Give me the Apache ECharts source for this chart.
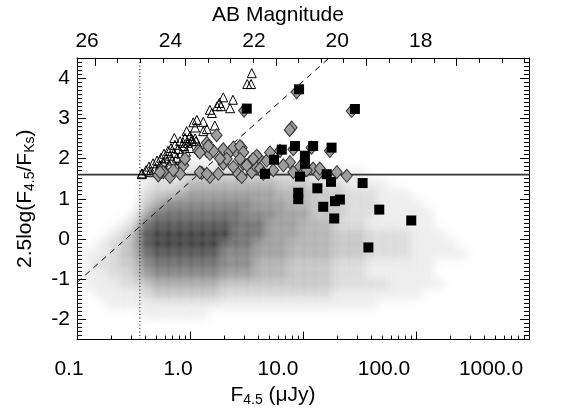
<!DOCTYPE html>
<html>
<head>
<meta charset="utf-8">
<script src="https://cdn.jsdelivr.net/npm/echarts@6.0.0/dist/echarts.min.js"></script>
<style>
html, body { margin: 0; padding: 0; background: #fff; }
#chart { width: 569px; height: 412px; }
</style>
</head>
<body>
<div id="chart"></div>
<script>
// open triangles: [F4.5 (uJy), 2.5log(F4.5/FKs)]
var triangles = [
    [3.52, 4.12], [3.21, 3.85], [3.47, 3.85], [1.97, 3.52], [2.40, 3.46], [1.82, 3.38],
    [1.74, 3.30], [1.88, 3.30], [2.26, 3.25], [1.50, 3.21], [1.56, 3.13], [1.15, 2.96],
    [1.07, 2.90], [1.31, 2.91], [1.41, 2.73], [1.66, 2.82], [1.11, 2.77], [1.31, 2.68],
    [0.726, 2.51], [0.935, 2.68], [1.00, 2.56], [1.11, 2.50], [0.873, 2.39], [1.04, 2.43],
    [0.376, 1.63], [0.408, 1.71], [0.434, 1.80], [0.443, 1.66], [0.471, 1.88], [0.490, 1.75],
    [0.511, 1.95], [0.521, 1.68], [0.543, 1.83], [0.554, 2.02], [0.577, 1.90], [0.589, 2.12],
    [0.601, 1.71], [0.614, 2.00], [0.639, 2.19], [0.652, 1.85], [0.665, 2.07], [0.679, 2.26],
    [0.693, 1.95], [0.722, 2.14], [0.736, 2.34], [0.751, 1.80], [0.767, 2.02], [0.783, 2.24],
    [0.817, 2.43], [0.833, 2.12], [0.849, 1.95], [0.885, 2.31], [0.903, 2.51], [0.922, 2.17],
    [0.960, 2.39], [1.00, 2.26], [1.04, 2.48], [1.13, 2.43], [1.20, 2.31], [0.374, 1.61]
];

// grey diamonds
var diamonds = [
    [8.79, 3.65], [3.01, 3.19], [27.0, 3.18], [7.94, 2.77], [7.62, 2.71], [1.72, 2.58],
    [1.41, 2.39], [1.18, 2.19], [1.41, 2.19], [1.50, 2.11], [1.97, 2.23], [2.23, 2.15],
    [2.42, 2.27], [2.87, 2.27], [2.67, 2.11], [0.873, 1.83], [0.903, 1.99], [0.581, 1.66],
    [0.524, 1.58], [0.665, 1.54], [0.817, 1.62], [1.27, 1.64], [1.50, 1.54], [1.78, 1.62],
    [1.97, 1.87], [2.11, 1.99], [2.42, 1.79], [2.67, 1.62], [2.96, 1.87], [2.87, 1.54],
    [3.52, 1.66], [3.76, 1.83], [4.16, 1.75], [4.77, 1.95], [5.11, 2.15], [6.26, 2.19],
    [7.67, 1.91], [6.70, 1.83], [5.46, 1.71], [4.46, 1.62], [3.52, 1.95], [4.02, 2.03],
    [1.61, 2.19], [9.40, 1.79], [10.07, 1.66], [12.3, 1.75], [13.7, 1.62], [17.3, 2.19],
    [19.9, 1.66], [24.4, 1.57], [8.21, 2.23], [11.9, 2.27], [3.89, 2.07], [3.40, 1.91],
    [10.8, 1.71], [14.1, 1.75], [8.21, 1.66], [1.45, 2.31], [1.22, 2.15], [2.77, 2.31],
    [2.96, 2.15], [1.84, 2.00], [2.77, 1.99], [3.18, 1.83], [3.63, 1.99], [0.543, 1.66],
    [1.22, 1.66], [1.41, 1.62], [0.711, 1.71]
];

// filled squares
var squares = [
    [3.18, 3.24], [9.23, 3.72], [28.8, 3.23], [8.5, 2.31], [12.3, 2.31], [17.9, 2.27],
    [6.49, 2.22], [5.54, 1.97], [10.4, 2.07], [10.4, 1.87], [4.61, 1.62], [9.4, 1.55],
    [16.2, 1.61], [17.7, 1.42], [33.7, 1.39], [13.4, 1.26], [9.08, 1.15], [9.08, 0.99],
    [19.2, 0.94], [21.2, 0.98], [15.1, 0.80], [18.9, 0.51], [47.3, 0.73], [90.8, 0.46],
    [37.9, -0.21]
];

// background sources, read as a density map (0-9) on a grid:
// columns in log10(F) from cloudLogF0, rows in y from cloudYTop downwards
var cloudLogF0 = -0.94;
var cloudLogStep = 0.1;
var cloudYTop = 2.0;
var cloudYStep = 0.25;
var cloudRows = [
    '00000001111111111000000000000000000',
    '00000111122222222222111110000000000',
    '00000122244444444333222111100000000',
    '00000233455555555444333222111000000',
    '00000346666666655544333222111100000',
    '00001477777777666555333222111110000',
    '00012788888887775554442221111110000',
    '00124899999997775554443332222111000',
    '01234899999977755544443332222111100',
    '11234788888866655544443332222111110',
    '12233677777766644433332221111110000',
    '11223566666655544433332221111110000',
    '11122344444433333333332222211111000',
    '01111233333322222222221111111100000',
    '00111111111111111111111111000000000',
    '00000111111000000000000000000000000'
];

var cutLevel = 1.6;
var dashedLine = [[0.1, -1.08], [17.06, 4.5]];
var dottedLine = [[0.36, -2.5], [0.36, 4.5]];

var xTicks = [0.1, 1, 10, 100, 1000];
var xTickLabels = ['0.1', '1.0', '10.0', '100.0', '1000.0'];
var magTicks = [26, 24, 22, 20, 18];
var yTicks = [-2, -1, 0, 1, 2, 3, 4];

var xMinorTicks = [];
for (var d = -1; d <= 2; d++) {
    for (var k = 2; k <= 9; k++) {
        xMinorTicks.push(k * Math.pow(10, d));
    }
}
var magMinorTicks = [];
for (var m = 16.5; m <= 26; m += 0.5) {
    if (m % 2 !== 0) magMinorTicks.push(m);
}
var yMinorTicks = [];
for (var i = -25; i <= 45; i++) {
    if (i % 10 !== 0) yMinorTicks.push(i / 10);
}

// build cells of the density map
var cloudCells = [];
cloudRows.forEach(function (row, r) {
    for (var c = 0; c < row.length; c++) {
        var v = parseInt(row.charAt(c), 10);
        if (v > 0) {
            cloudCells.push([
                Math.pow(10, cloudLogF0 + (c + 0.5) * cloudLogStep),
                cloudYTop - (r + 0.5) * cloudYStep,
                v
            ]);
        }
    }
});

var font = 'Liberation Sans, Arial, Helvetica, sans-serif';
var fs = 21;
var bottomLabelShift = [8, 12, 25, 32, 38];
var topLabelShift = [8, 15, 22, 29, 36];

function shiftedRich(shifts) {
    var r = {};
    shifts.forEach(function (s, i) {
        r['l' + i] = {fontSize: fs, fontFamily: font, color: '#000', padding: [0, 2 * s, 0, 0]};
    });
    return r;
}

var nameRich = {
    n: {fontSize: fs, fontFamily: font, color: '#000'},
    s: {fontSize: 14, fontFamily: font, color: '#000', padding: [10, 0, 0, 0]}
};

var blackLine = {show: true, onZero: false, lineStyle: {color: '#000', width: 1}};
var noLine = {show: false, onZero: false};

var chart = echarts.init(document.getElementById('chart'));

chart.setOption({
    animation: false,
    backgroundColor: '#fff',
    grid: {left: 77, right: 40, top: 55, bottom: 69},
    xAxis: [
        {
            type: 'log', logBase: 10, min: 0.1, max: 1000, position: 'bottom',
            axisLine: blackLine,
            axisTick: {inside: true, length: 8, customValues: xTicks, lineStyle: {color: '#000'}},
            axisLabel: {
                customValues: xTicks, margin: 19, rich: shiftedRich(bottomLabelShift),
                formatter: function (v) {
                    var idx = Math.round(Math.log(v) / Math.LN10) + 1;
                    return '{l' + idx + '|' + xTickLabels[idx] + '}';
                }
            },
            splitLine: {show: false},
            name: '{n|F}{s|4.5}{n| (μJy)}',
            nameLocation: 'middle', nameGap: 41,
            nameTextStyle: {rich: nameRich, padding: [0, 60, 0, 0]}
        },
        {
            type: 'log', logBase: 10, min: 0.1, max: 1000, position: 'bottom',
            axisLine: noLine,
            axisTick: {inside: true, length: 4, customValues: xMinorTicks, lineStyle: {color: '#000'}},
            axisLabel: {show: false},
            splitLine: {show: false}
        },
        {
            type: 'value', min: 16.4, max: 26.4, inverse: true, position: 'top',
            axisLine: blackLine,
            axisTick: {inside: true, length: 8, customValues: magTicks, lineStyle: {color: '#000'}},
            axisLabel: {
                customValues: magTicks, margin: 6, rich: shiftedRich(topLabelShift),
                formatter: function (v) {
                    var idx = Math.round((26 - v) / 2);
                    return '{l' + idx + '|' + v + '}';
                }
            },
            splitLine: {show: false},
            name: 'AB Magnitude',
            nameLocation: 'middle', nameGap: 27,
            nameTextStyle: {fontSize: fs, fontFamily: font, color: '#000', padding: [0, 50, 0, 0]}
        },
        {
            type: 'value', min: 16.4, max: 26.4, inverse: true, position: 'top',
            axisLine: noLine,
            axisTick: {inside: true, length: 5, customValues: magMinorTicks, lineStyle: {color: '#000'}},
            axisLabel: {show: false},
            splitLine: {show: false}
        }
    ],
    yAxis: [
        {
            type: 'value', min: -2.5, max: 4.5, position: 'left',
            axisLine: blackLine,
            axisTick: {inside: true, length: 9, customValues: yTicks, lineStyle: {color: '#000'}},
            axisLabel: {
                customValues: yTicks, margin: 7, fontSize: fs, fontFamily: font, color: '#000',
                padding: [6, 0, 0, 0]
            },
            splitLine: {show: false},
            name: '{n|2.5log(F}{s|4.5}{n|/F}{s|Ks}{n|)}',
            nameLocation: 'middle', nameGap: 40,
            nameTextStyle: {rich: nameRich}
        },
        {
            type: 'value', min: -2.5, max: 4.5, position: 'left',
            axisLine: noLine,
            axisTick: {inside: true, length: 5, customValues: yMinorTicks, lineStyle: {color: '#000'}},
            axisLabel: {show: false},
            splitLine: {show: false}
        },
        {
            type: 'value', min: -2.5, max: 4.5, position: 'right',
            axisLine: blackLine,
            axisTick: {inside: true, length: 9, customValues: yTicks, lineStyle: {color: '#000'}},
            axisLabel: {show: false},
            splitLine: {show: false}
        },
        {
            type: 'value', min: -2.5, max: 4.5, position: 'right',
            axisLine: noLine,
            axisTick: {inside: true, length: 5, customValues: yMinorTicks, lineStyle: {color: '#000'}},
            axisLabel: {show: false},
            splitLine: {show: false}
        }
    ],
    series: [
        {
            // each density cell is drawn as a soft spot (1.5 cells reach) so neighbours blend
            type: 'custom', xAxisIndex: 0, yAxisIndex: 0, z: 1, silent: true, clip: true,
            encode: {x: 0, y: 1},
            data: cloudCells,
            renderItem: function (params, api) {
                var f = api.value(0), y = api.value(1), v = api.value(2);
                var half = Math.pow(10, cloudLogStep / 2);
                var p0 = api.coord([f / half, y + cloudYStep / 2]);
                var p1 = api.coord([f * half, y - cloudYStep / 2]);
                var w = p1[0] - p0[0], h = p1[1] - p0[1];
                var target = Math.min(v * 0.075, 0.95);
                var a = -Math.log(1 - target) / 1.75;
                function c(s) { return 'rgba(0,0,0,' + (a * s).toFixed(4) + ')'; }
                return {
                    type: 'rect',
                    shape: {x: p0[0] - w, y: p0[1] - h, width: 3 * w, height: 3 * h},
                    style: {
                        fill: new echarts.graphic.RadialGradient(0.5, 0.5, 0.5, [
                            {offset: 0, color: c(1)},
                            {offset: 0.33, color: c(0.6)},
                            {offset: 0.66, color: c(0.18)},
                            {offset: 1, color: c(0)}
                        ])
                    }
                };
            }
        },
        {
            type: 'line', xAxisIndex: 0, yAxisIndex: 0, z: 2, silent: true,
            data: dottedLine, symbol: 'none',
            lineStyle: {color: '#000', width: 1, type: [1, 2.5]}
        },
        {
            type: 'line', xAxisIndex: 0, yAxisIndex: 0, z: 2, silent: true,
            data: dashedLine, symbol: 'none',
            lineStyle: {color: '#000', width: 1, type: [6, 5]}
        },
        {
            type: 'line', xAxisIndex: 0, yAxisIndex: 0, z: 2, silent: true,
            data: [[0.1, cutLevel], [1000, cutLevel]], symbol: 'none',
            lineStyle: {color: '#333', width: 1.6}
        },
        {
            type: 'scatter', xAxisIndex: 0, yAxisIndex: 0, z: 3, silent: true,
            data: triangles, symbol: 'triangle', symbolSize: [9, 9],
            itemStyle: {color: 'rgba(255,255,255,0)', borderColor: '#000', borderWidth: 1, opacity: 1}
        },
        {
            type: 'scatter', xAxisIndex: 0, yAxisIndex: 0, z: 4, silent: true,
            data: diamonds, symbol: 'diamond', symbolSize: [11, 13],
            itemStyle: {color: '#9e9e9e', borderColor: '#333', borderWidth: 1, opacity: 1}
        },
        {
            type: 'scatter', xAxisIndex: 0, yAxisIndex: 0, z: 5, silent: true,
            data: squares, symbol: 'rect', symbolSize: 10,
            itemStyle: {color: '#000', opacity: 1}
        }
    ]
});
</script>
</body>
</html>
